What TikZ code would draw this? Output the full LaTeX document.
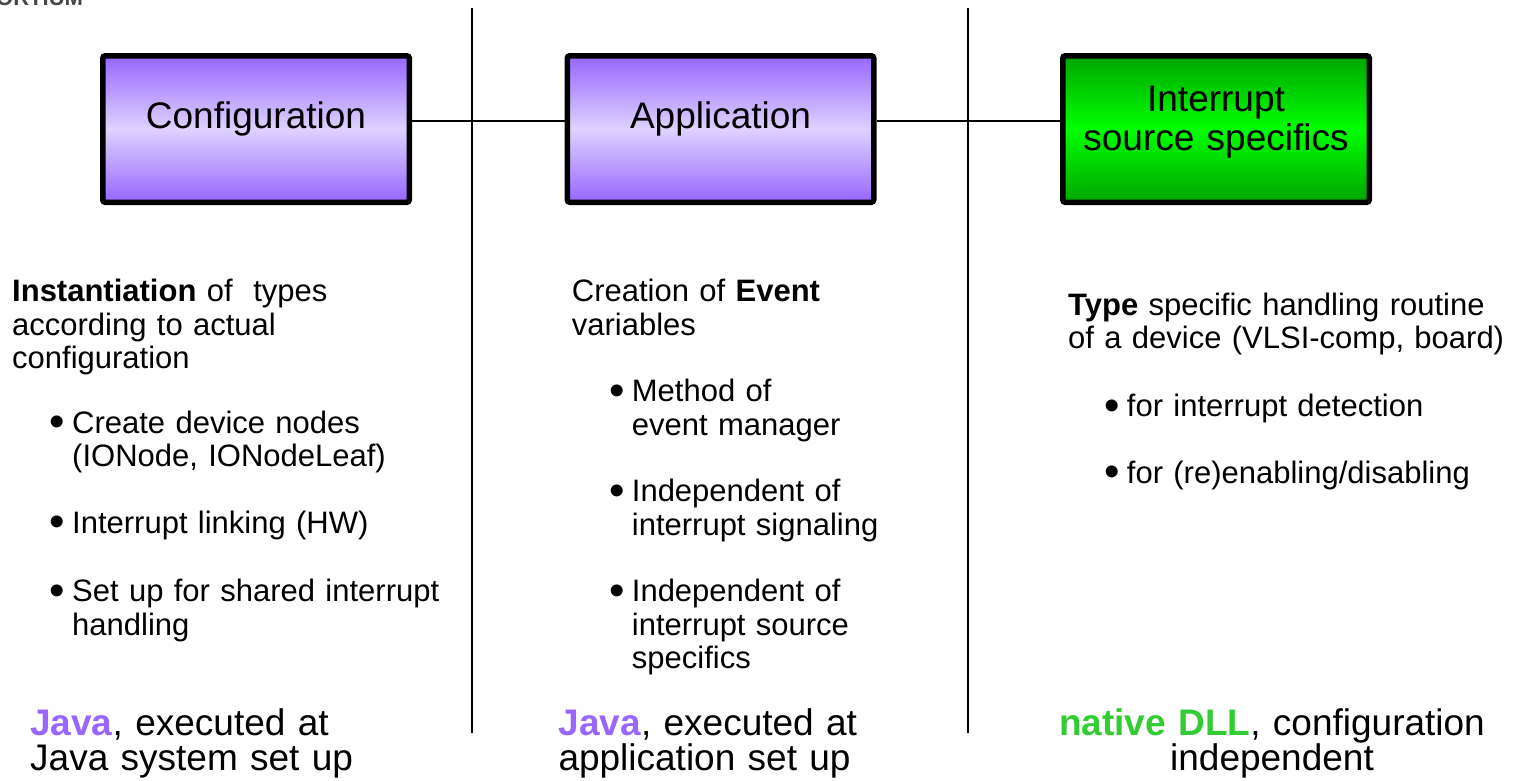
\documentclass[tikz,border=0pt]{standalone}
\usepackage{fontspec}
\setmainfont{Liberation Sans}
\definecolor{vdark}{RGB}{150,102,255}
\definecolor{vlight}{RGB}{222,210,255}
\definecolor{gdark}{RGB}{0,165,0}
\definecolor{glight}{RGB}{0,255,0}
\definecolor{javapurple}{RGB}{153,102,255}
\definecolor{dllgreen}{RGB}{51,204,51}
\definecolor{logogray}{RGB}{70,70,70}
\newcommand{\bul}{\llap{\raisebox{-3.5pt}{\fontsize{44}{33}\selectfont\textbullet}\hspace{7.5pt}}}
\begin{document}
\begin{tikzpicture}[x=1pt,y=-1pt,
  blockbox/.style={draw=black, line width=5.5pt, rounded corners=2.5pt,
    minimum width=306.5pt, minimum height=146.5pt, inner sep=0pt},
  violetbox/.style={blockbox, top color=vdark, bottom color=vdark, middle color=vlight},
  greenbox/.style={blockbox, top color=gdark, bottom color=gdark, middle color=glight},
  boxtext/.style={font=\fontsize{37}{38.3}\selectfont, align=center, text width=300pt, inner sep=0pt, anchor=base},
  bodytext/.style={font=\fontsize{31}{33.3}\selectfont, align=left, text width=460pt, inner sep=0pt, anchor=base west},
  foottext/.style={font=\fontsize{37}{35}\selectfont, align=left, text width=460pt, inner sep=0pt, anchor=base west},
  rule/.style={line width=1.8pt}
]
\useasboundingbox (0,0) rectangle (1513,780);
\clip (0,0) rectangle (1513,780);

% cut-off logo text
\node[font=\fontsize{22}{22}\selectfont\bfseries, text=logogray, inner sep=0pt, anchor=base west] (logo) at (-4,5) {ORTIUM};

% column separators
\coordinate (s1top) at (472,8);
\coordinate (s1bot) at (472,733);
\coordinate (s2top) at (968,8);
\coordinate (s2bot) at (968,733);
\draw[rule] (s1top) -- (s1bot);
\draw[rule] (s2top) -- (s2bot);

% boxes
\node[violetbox] (cfg) at (256,129) {};
\node[violetbox] (app) at (720.5,129) {};
\node[greenbox] (isrc) at (1216,129) {};

\node[boxtext] (cfgt) at (256,128.3) {Configuration};
\node[boxtext] (appt) at (720.5,128.3) {Application};
\node[boxtext] (isrct) at (1216,111.7) {Interrupt\\source specifics};

% connectors
\draw[rule] ([yshift=8.3pt]cfg.east) -- ([yshift=8.3pt]app.west);
\draw[rule] ([yshift=8.3pt]app.east) -- ([yshift=8.3pt]isrc.west);

% left column
\node[bodytext] (l0) at (12,301.7) {\textbf{Instantiation} of\ \ types\\according to actual\\configuration};
\node[bodytext] (l1) at (72,433.3) {\bul Create device nodes\\(IONode, IONodeLeaf)};
\node[bodytext] (l2) at (72,533.3) {\bul Interrupt linking (HW)};
\node[bodytext] (l3) at (72,601.7) {\bul Set up for shared interrupt\\handling};
\node[foottext] (l4) at (30,735) {\textcolor{javapurple}{\textbf{Java}}, executed at\\Java system set up};

% middle column
\node[bodytext] (m0) at (571.7,301.7) {Creation of \textbf{Event}\\variables};
\node[bodytext] (m1) at (631.7,401.7) {\bul Method of\\event manager};
\node[bodytext] (m2) at (631.7,501.7) {\bul Independent of\\interrupt signaling};
\node[bodytext] (m3) at (631.7,601.7) {\bul Independent of\\interrupt source\\specifics};
\node[foottext] (m4) at (558.3,735) {\textcolor{javapurple}{\textbf{Java}}, executed at\\application set up};

% right column
\node[bodytext] (r0) at (1068,315) {\textbf{Type} specific handling routine\\of a device (VLSI-comp, board)};
\node[bodytext] (r1) at (1126.7,416.7) {\bul for interrupt detection};
\node[bodytext] (r2) at (1126.7,483.3) {\bul for (re)enabling/disabling};
\node[font=\fontsize{37}{35}\selectfont, align=center, text width=460pt, inner sep=0pt, anchor=base] (r3) at (1272,735) {\textcolor{dllgreen}{\textbf{native DLL}}, configuration\\independent};
\end{tikzpicture}
\end{document}
